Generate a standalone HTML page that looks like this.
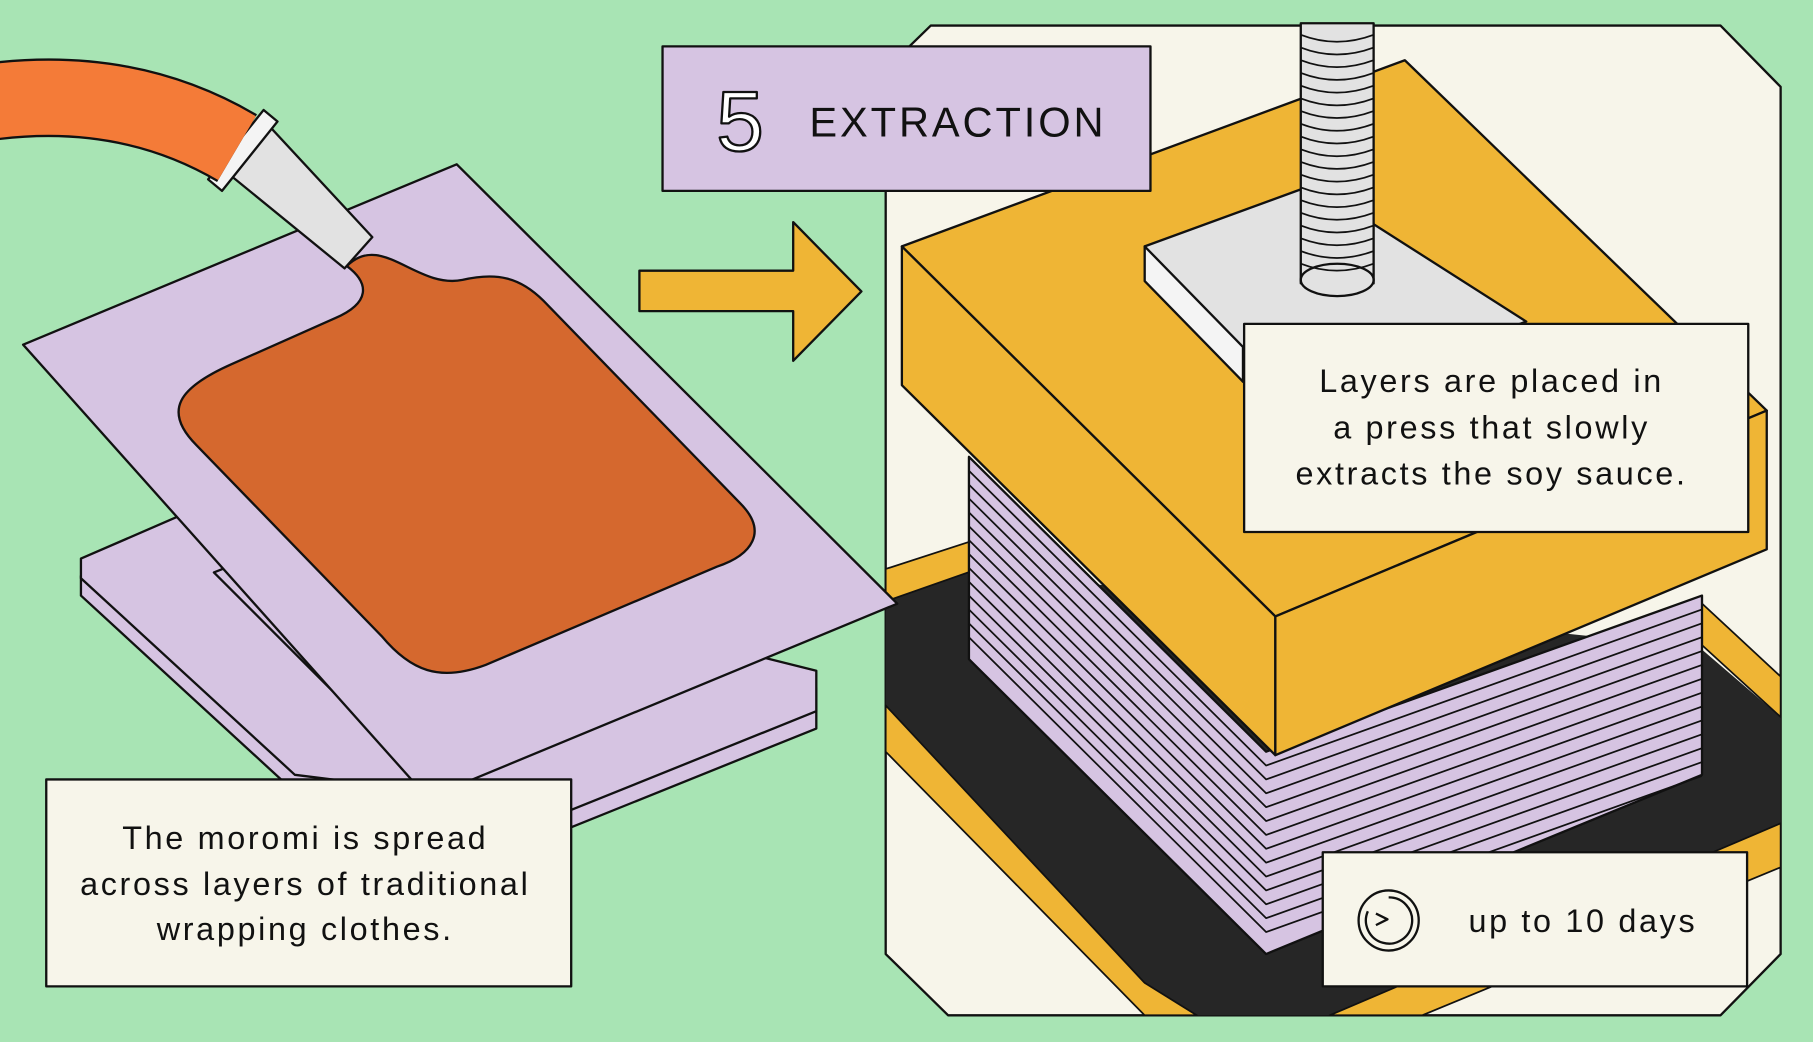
<!DOCTYPE html>
<html><head><meta charset="utf-8"><style>
html,body{margin:0;padding:0;background:#a8e4b4;}
svg{display:block}
text{font-family:"Liberation Sans",sans-serif;fill:#111;}
</style></head><body>
<svg width="1813" height="1042" viewBox="0 0 1568 901" xmlns="http://www.w3.org/2000/svg" stroke-linejoin="round">
<rect width="1568" height="901" fill="#a8e4b4"/>
<defs>
<g id="lay"><path d="M838,395 L1095,650 L1472,515" fill="none" stroke="#111" stroke-width="1.5"/></g>
</defs>
<polygon points="805,22 1488,22 1540,75 1540,825 1488,878 820,878 766,825 766,60" fill="#f7f5ea" stroke="#111" stroke-width="2"/>
<polygon points="766,520 840,494 1470,560 1540,620 1540,712 1150,878 1000,878 766,630" fill="#262626"/>
<polygon points="766,492 840,468 840,494 766,520" fill="#efb535" stroke="#111" stroke-width="1.5"/>
<polygon points="766,610 990,850 1035,878 990,878 766,650" fill="#efb535" stroke="#111" stroke-width="1.5"/>
<polygon points="1470,520 1540,585 1540,620 1470,556" fill="#efb535" stroke="#111" stroke-width="1.5"/>
<polygon points="1150,878 1540,712 1540,750 1230,878" fill="#efb535" stroke="#111" stroke-width="1.5"/>
<polygon points="838,395 1095,650 1472,515 1472,670 1095,825 838,570" fill="#d6c4e2" stroke="#111" stroke-width="2"/>
<use href="#lay" y="12"/><use href="#lay" y="24"/><use href="#lay" y="36"/><use href="#lay" y="48"/><use href="#lay" y="60"/><use href="#lay" y="72"/><use href="#lay" y="84"/><use href="#lay" y="96"/><use href="#lay" y="108"/><use href="#lay" y="120"/><use href="#lay" y="132"/><use href="#lay" y="144"/><use href="#lay" y="156"/>
<polygon points="780,213 1215,52 1528,355 1103,533" fill="#efb535" stroke="#111" stroke-width="2"/>
<polygon points="780,213 1103,533 1103,653 780,333" fill="#efb535" stroke="#111" stroke-width="2"/>
<polygon points="1103,533 1528,355 1528,475 1103,653" fill="#efb535" stroke="#111" stroke-width="2"/>
<polygon points="990,213 1135,160 1320,278 1180,330 1075,330" fill="#e2e2e2" stroke="#111" stroke-width="2"/>
<polygon points="990,213 1075,300 1075,330 990,243" fill="#f4f4f4" stroke="#111" stroke-width="2"/>
<rect x="1125" y="20" width="63" height="225" fill="#e2e2e2" stroke="#111" stroke-width="2"/>
<ellipse cx="1156.5" cy="242" rx="31.5" ry="14" fill="#e2e2e2" stroke="#111" stroke-width="2"/>
<g fill="none" stroke="#111" stroke-width="1.5">
<path d="M1125,30 q31,12 63,0 M1125,41 q31,12 63,0 M1125,52 q31,12 63,0 M1125,63 q31,12 63,0 M1125,74 q31,12 63,0 M1125,85 q31,12 63,0 M1125,96 q31,12 63,0 M1125,107 q31,12 63,0 M1125,118 q31,12 63,0 M1125,129 q31,12 63,0 M1125,140 q31,12 63,0 M1125,151 q31,12 63,0 M1125,162 q31,12 63,0 M1125,173 q31,12 63,0 M1125,184 q31,12 63,0 M1125,195 q31,12 63,0 M1125,206 q31,12 63,0 M1125,217 q31,12 63,0 M1125,228 q31,12 63,0"/>
</g>
<rect x="1076" y="280" width="436" height="180" fill="#f7f5ea" stroke="#111" stroke-width="2"/>
<text x="1290" y="339" font-size="28" text-anchor="middle" letter-spacing="2.3">Layers are placed in</text>
<text x="1290" y="379" font-size="28" text-anchor="middle" letter-spacing="2.3">a press that slowly</text>
<text x="1290" y="419" font-size="28" text-anchor="middle" letter-spacing="2.3">extracts the soy sauce.</text>
<rect x="1144" y="737" width="367" height="116" fill="#f7f5ea" stroke="#111" stroke-width="2"/>
<circle cx="1201" cy="796" r="26" fill="none" stroke="#111" stroke-width="2"/>
<path d="M1201,776 A20,20 0 1 1 1183,788" fill="none" stroke="#111" stroke-width="2"/>
<path d="M1190,790 L1200,795 L1190,800" fill="none" stroke="#111" stroke-width="2"/>
<text x="1270" y="806" font-size="28" letter-spacing="2.3">up to 10 days</text>
<rect x="573" y="40" width="422" height="125" fill="#d6c4e2" stroke="#111" stroke-width="2"/>
<text x="640" y="130" font-size="74" text-anchor="middle" style="fill:#fff;stroke:#111;stroke-width:2">5</text>
<text x="700" y="118" font-size="36" letter-spacing="2.5">EXTRACTION</text>
<polygon points="553,234 686,234 686,192 745,252 686,312 686,269 553,269" fill="#efb535" stroke="#111" stroke-width="2"/>
<polygon points="70,498 160,459 706,595 706,630 495,715 255,685 70,515" fill="#d6c4e2" stroke="#111" stroke-width="2"/>
<polygon points="70,483 160,444 706,580 706,615 495,700 255,670 70,500" fill="#d6c4e2" stroke="#111" stroke-width="2"/>
<polygon points="185,495 205,487 372,655 352,662" fill="#d6c4e2" stroke="#111" stroke-width="2"/>
<polygon points="20,298 395,142 776,522 370,690" fill="#d6c4e2" stroke="#111" stroke-width="2"/>
<path d="M300,230 C330,200 360,250 400,242 C430,235 450,240 470,260 L640,435 C665,460 650,480 620,490 L420,575 C380,590 355,580 330,550 L170,385 C140,355 155,335 200,315 L290,275 C320,262 320,245 300,230 Z" fill="#d5682e" stroke="#111" stroke-width="2"/>
<polygon points="195,148 232,108 322,205 298,232" fill="#e2e2e2" stroke="#111" stroke-width="2"/>
<polygon points="180,155 228,95 240,105 192,165" fill="#f4f4f4" stroke="#111" stroke-width="2"/>
<path d="M-10,88 Q110,72 205,128" fill="none" stroke="#111" stroke-width="68"/>
<path d="M-10,88 Q110,72 205,128" fill="none" stroke="#f47b38" stroke-width="64"/>
<rect x="40" y="674" width="454" height="179" fill="#f7f5ea" stroke="#111" stroke-width="2"/>
<text x="264" y="734" font-size="28" text-anchor="middle" letter-spacing="2.3">The moromi is spread</text>
<text x="264" y="774" font-size="28" text-anchor="middle" letter-spacing="2.3">across layers of traditional</text>
<text x="264" y="813" font-size="28" text-anchor="middle" letter-spacing="2.3">wrapping clothes.</text>
</svg>
</body></html>
